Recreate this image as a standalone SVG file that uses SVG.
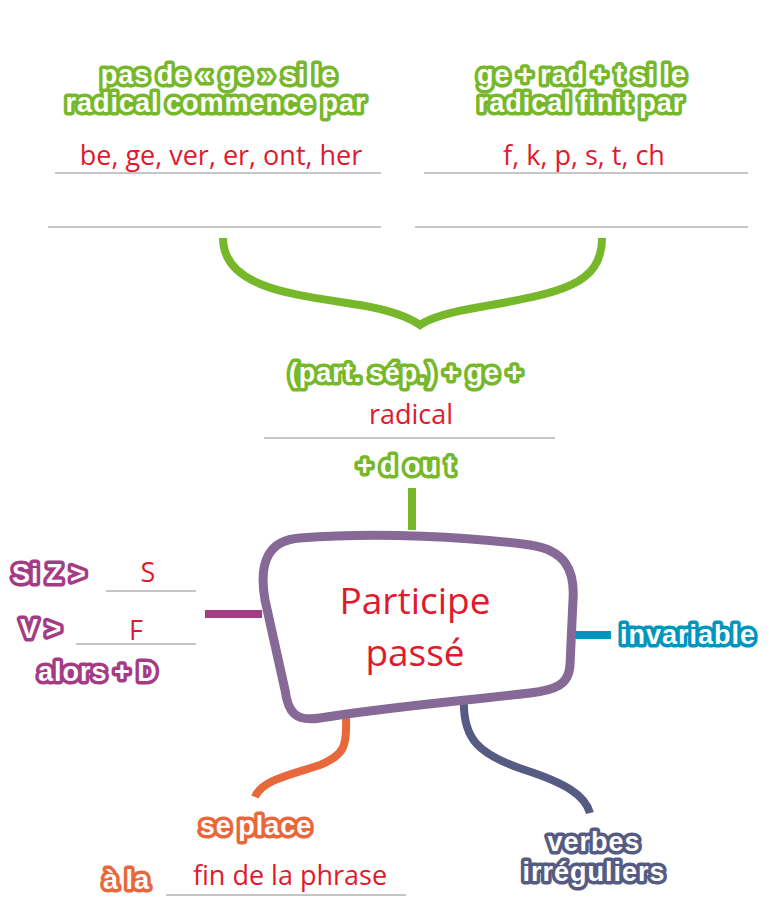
<svg xmlns="http://www.w3.org/2000/svg" width="777" height="898" viewBox="0 0 777 898">
<style>
.ot{font-family:"Liberation Sans",Arial,sans-serif;font-weight:bold;font-size:27px;fill:#fff;stroke-width:7;stroke-linejoin:round;paint-order:stroke;letter-spacing:1px;word-spacing:-2px}
.g{stroke:#76b82a}
.m{stroke:#a43c85}
.o{stroke:#e8683c}
.b{stroke:#555b82}
.t{stroke:#0095be}
.r{font-family:"Open Sans","Noto Sans",sans-serif;font-size:27px;fill:#e2192c}
.ln{stroke:#b3b3b3;stroke-width:1.5;fill:none}
.c{fill:none;stroke-width:8;stroke-linecap:butt}
</style>
<rect width="777" height="898" fill="#fff"/>
<g id="connectors">
<path class="c" d="M223,238 C223,290 300,295 360,305 C395,311 410,318 420,325 C430,318 450,312 480,307 C560,293 602,285 602,238" stroke="#76b82a"/>
<line class="c" x1="412" y1="488" x2="412" y2="530" stroke="#76b82a"/>
<line class="c" x1="205" y1="614" x2="262" y2="614" stroke="#a43c85"/>
<line class="c" x1="572" y1="635" x2="611" y2="635" stroke="#0095be"/>
<path class="c" d="M346,718 C347,745 345,755 320,765 C290,775 262,780 255,797" stroke="#e8683c" stroke-linecap="round" stroke-width="7"/>
<path class="c" d="M464,698 C462,740 480,755 525,770 C565,783 585,795 590,813" stroke="#555b82" stroke-linecap="round" stroke-width="7"/>
</g>
<g id="top-left">
<text class="ot g" x="219" y="84" text-anchor="middle">pas de « ge » si le</text>
<text class="ot g" x="216" y="112" text-anchor="middle">radical commence par</text>
<text class="r" x="221" y="165" text-anchor="middle">be, ge, ver, er, ont, her</text>
<line class="ln" x1="55" y1="173" x2="381" y2="173"/>
<line class="ln" x1="48" y1="227" x2="381" y2="227"/>
</g>
<g id="top-right">
<text class="ot g" x="582" y="84" text-anchor="middle">ge + rad + t si le</text>
<text class="ot g" x="581" y="112" text-anchor="middle">radical finit par</text>
<text class="r" x="584" y="165" text-anchor="middle">f, k, p, s, t, ch</text>
<line class="ln" x1="424" y1="173" x2="748" y2="173"/>
<line class="ln" x1="415" y1="227" x2="748" y2="227"/>
</g>
<g id="formula">
<text class="ot g" x="406" y="382" text-anchor="middle">(part. sép.) + ge +</text>
<text class="r" x="411" y="424" text-anchor="middle">radical</text>
<line class="ln" x1="264" y1="438" x2="555" y2="438"/>
<text class="ot g" x="406" y="475" text-anchor="middle">+ d ou t</text>
</g>
<g id="center">
<path d="M300,538 C380,532 470,537 530,545 C565,550 575,570 573,600 L570,665 C569,685 555,690 530,693 C450,702 380,708 320,718 C295,722 288,712 285,690 L265,600 C258,560 270,540 300,538 Z" fill="#fff" stroke="#866997" stroke-width="9"/>
<text x="415" y="614" text-anchor="middle" font-family="Open Sans,Noto Sans,sans-serif" font-size="37" fill="#e2192c">Participe</text>
<text x="415" y="666" text-anchor="middle" font-family="Open Sans,Noto Sans,sans-serif" font-size="37" fill="#e2192c">passé</text>
</g>
<g id="left-branch">
<text class="ot m" x="12" y="583">Si Z &gt;</text>
<text class="r" x="148" y="582" text-anchor="middle">S</text>
<line class="ln" x1="106" y1="591" x2="196" y2="591"/>
<text class="ot m" x="20" y="638">V &gt;</text>
<text class="r" x="136" y="640" text-anchor="middle">F</text>
<line class="ln" x1="76" y1="644" x2="196" y2="644"/>
<text class="ot m" x="38" y="681">alors + D</text>
</g>
<g id="right-branch">
<text class="ot t" x="620" y="644">invariable</text>
</g>
<g id="bottom-left">
<text class="ot o" x="256" y="835" text-anchor="middle">se place</text>
<text class="ot o" x="103" y="889">à la</text>
<text class="r" x="290" y="885" text-anchor="middle">fin de la phrase</text>
<line class="ln" x1="166" y1="895" x2="406" y2="895"/>
</g>
<g id="bottom-right">
<text class="ot b" x="594" y="851" text-anchor="middle">verbes</text>
<text class="ot b" x="594" y="881" text-anchor="middle">irréguliers</text>
</g>
</svg>
